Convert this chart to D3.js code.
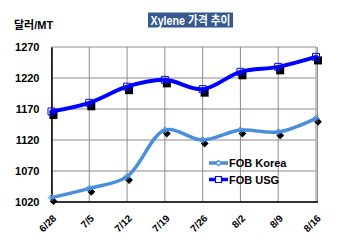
<!DOCTYPE html>
<html>
<head>
<meta charset="utf-8">
<script src="https://cdn.jsdelivr.net/npm/d3@7"></script>
<style>
  body { margin: 0; background: #fff; }
  svg { display: block; font-family: Arial, "Liberation Sans", "Noto Sans CJK KR", sans-serif; }
</style>
</head>
<body>
<svg id="chart" width="350" height="246"></svg>
<script>
const categories = ['6/28', '7/5', '7/12', '7/19', '7/26', '8/2', '8/9', '8/16'];
const fobKorea = [1027, 1042, 1061, 1136, 1120, 1136, 1133, 1155];
const fobUsg = [1166, 1180, 1206, 1217, 1202, 1230, 1238, 1254];
const yTicks = [1020, 1070, 1120, 1170, 1220, 1270];

const WIDTH = 350;
const HEIGHT = 246;
const MARGIN_LEFT = 51.5;
const MARGIN_TOP = 47;
const PLOT_RIGHT = 316;
const PLOT_BOTTOM = 202;

const COLORS = { korea: '#4a8fdc', usg: '#0000ff', grid: '#8c8c8c' };

const root = d3.select('#chart');

const x = d3.scalePoint().domain(categories).range([MARGIN_LEFT, PLOT_RIGHT]);
const y = d3.scaleLinear().domain([1020, 1270]).range([PLOT_BOTTOM, MARGIN_TOP]);

drawTitle();
drawGrid();
drawAxis();
drawSeries(fobUsg, COLORS.usg, 'square', 3.5, 4);
drawSeries(fobKorea, COLORS.korea, 'diamond', 2.5, 3.5);
drawLegend();

function drawTitle() {
    root.append('rect')
        .attr('x', 148).attr('y', 12.5)
        .attr('width', 85).attr('height', 15)
        .attr('fill', '#34588f');
    const title = root.append('text')
        .attr('x', 190.5).attr('y', 24.5)
        .attr('font-size', 12)
        .attr('font-weight', 'bold')
        .attr('fill', '#fff')
        .attr('text-anchor', 'middle')
        .attr('textLength', 80)
        .attr('lengthAdjust', 'spacingAndGlyphs');
    title.text('Xylene 가격 추이');
    root.append('text')
        .text('달러/MT')
        .attr('x', 14).attr('y', 29)
        .attr('font-size', 11)
        .attr('font-weight', 'bold')
        .attr('fill', '#000');
}

function drawGrid() {
    const g = root.append('g');
    yTicks.forEach(t => {
        g.append('line')
            .attr('x1', MARGIN_LEFT).attr('x2', PLOT_RIGHT)
            .attr('y1', y(t)).attr('y2', y(t))
            .attr('stroke', COLORS.grid).attr('stroke-width', 1);
    });
    categories.forEach(c => {
        g.append('line')
            .attr('x1', x(c)).attr('x2', x(c))
            .attr('y1', MARGIN_TOP).attr('y2', PLOT_BOTTOM)
            .attr('stroke', COLORS.grid).attr('stroke-width', 1);
    });
    g.append('line')
        .attr('x1', PLOT_RIGHT + 1.5).attr('x2', PLOT_RIGHT + 1.5)
        .attr('y1', MARGIN_TOP).attr('y2', PLOT_BOTTOM)
        .attr('stroke', COLORS.grid).attr('stroke-width', 1);
}

function drawAxis() {
    const yAxis = root.append('g')
        .attr('transform', `translate(${MARGIN_LEFT},0)`)
        .call(d3.axisLeft(y).tickValues(yTicks).tickSize(0).tickPadding(12).tickFormat(d3.format('d')));
    yAxis.select('.domain').attr('stroke', '#000').attr('stroke-width', 1.5);
    yAxis.selectAll('text')
        .attr('font-size', 11).attr('font-weight', 'bold')
        .attr('font-family', 'Arial, "Liberation Sans", sans-serif')
        .attr('fill', '#000');

    const xAxis = root.append('g')
        .attr('transform', `translate(0,${PLOT_BOTTOM})`)
        .call(d3.axisBottom(x).tickSize(0).tickPadding(0));
    xAxis.select('.domain').attr('stroke', '#000').attr('stroke-width', 1.5)
        .attr('d', `M${MARGIN_LEFT},0H${PLOT_RIGHT + 2}`);
    xAxis.selectAll('text')
        .attr('font-size', 10).attr('font-weight', 'bold')
        .attr('font-family', 'Arial, "Liberation Sans", sans-serif')
        .attr('fill', '#000')
        .attr('text-anchor', 'end')
        .attr('dy', 0)
        .attr('transform', 'translate(5,17) rotate(-45)');
}

function markerPath(shape, r) {
    if (shape === 'square') {
        return `M${-r},${-r}H${r}V${r}H${-r}Z`;
    }
    return `M0,${-r * 1.3}L${r * 1.3},0L0,${r * 1.3}L${-r * 1.3},0Z`;
}

function drawSeries(values, color, shape, r, width) {
    const line = d3.line()
        .x((d, i) => x(categories[i]))
        .y(d => y(d))
        .curve(d3.curveCatmullRom.alpha(0.5));

    // black marker shadows
    root.append('g').selectAll('path')
        .data(values).join('path')
        .attr('d', markerPath(shape, r + 0.5))
        .attr('transform', (d, i) => `translate(${x(categories[i]) + 2},${y(d) + 3.5})`)
        .attr('fill', '#000');

    root.append('path')
        .datum(values)
        .attr('d', line)
        .attr('fill', 'none')
        .attr('stroke', color)
        .attr('stroke-width', width)
        .attr('stroke-linejoin', 'round')
        .attr('stroke-linecap', 'round');

    root.append('g').selectAll('path')
        .data(values).join('path')
        .attr('d', markerPath(shape, r))
        .attr('transform', (d, i) => `translate(${x(categories[i])},${y(d)})`)
        .attr('fill', 'none')
        .attr('stroke', color)
        .attr('stroke-width', 1);
}

function drawLegend() {
    const items = [
        { name: 'FOB Korea', color: COLORS.korea, shape: 'diamond', r: 2 },
        { name: 'FOB USG', color: COLORS.usg, shape: 'square', r: 3 }
    ];
    items.forEach((item, i) => {
        const ly = 163 + i * 16.5;
        root.append('line')
            .attr('x1', 209).attr('x2', 228)
            .attr('y1', ly).attr('y2', ly)
            .attr('stroke', item.color).attr('stroke-width', 3.5);
        root.append('path')
            .attr('d', markerPath(item.shape, item.r))
            .attr('transform', `translate(218.5,${ly})`)
            .attr('fill', '#fff')
            .attr('stroke', item.color).attr('stroke-width', 1.2);
        root.append('text')
            .text(item.name)
            .attr('x', 229).attr('y', ly + 4)
            .attr('font-size', 11).attr('font-weight', 'bold')
            .attr('fill', '#000');
    });
}
</script>
</body>
</html>
